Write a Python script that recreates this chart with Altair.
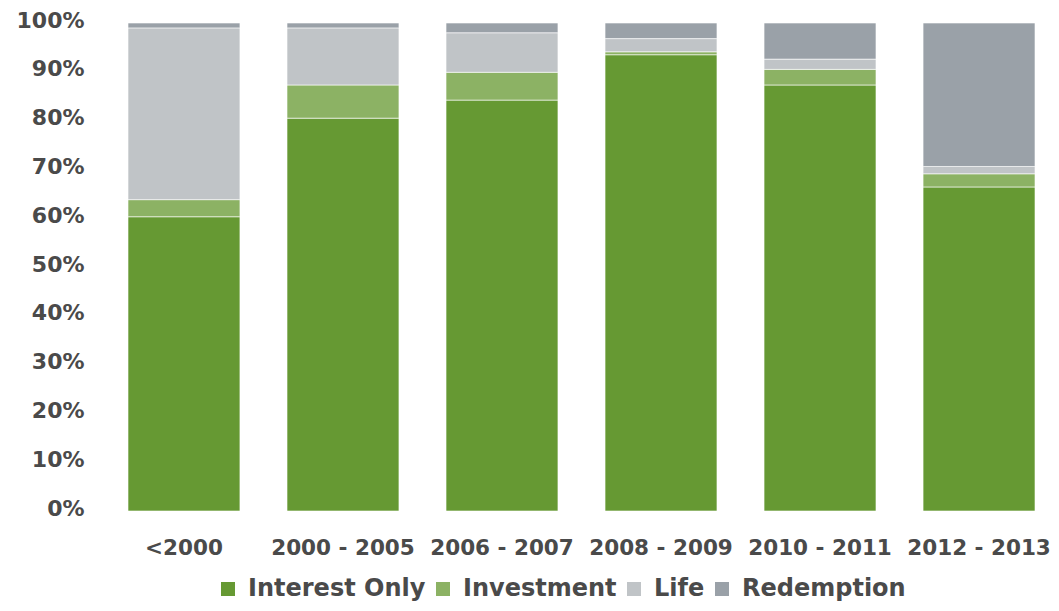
import altair as alt
import pandas as pd

periods = ["<2000", "2000 - 2005", "2006 - 2007", "2008 - 2009", "2010 - 2011", "2012 - 2013"]
series = ["Interest Only", "Investment", "Life", "Redemption"]
interest_only = [60.3, 80.5, 84.2, 93.5, 87.3, 66.4]
investment = [3.5, 6.8, 5.7, 0.6, 3.2, 2.7]
life = [35.2, 11.7, 8.1, 2.7, 2.1, 1.5]
redemption = [1.0, 1.0, 2.0, 3.2, 7.4, 29.4]
colors = ["#669933", "#8cb264", "#c0c4c7", "#9aa1a8"]
y_ticks = [i / 10 for i in range(11)]

rows = []
for s_i, (name, vals) in enumerate(zip(series, [interest_only, investment, life, redemption])):
    for p, v in zip(periods, vals):
        rows.append({"period": p, "series": name, "value": v, "order": s_i})
df = pd.DataFrame(rows)

FONT = "DejaVu Sans"
TXT = "#4a4a4a"

chart = alt.Chart(df).mark_bar(stroke="white", strokeWidth=1, strokeOpacity=0.6).encode(
    x=alt.X("period:N", sort=periods,
            scale=alt.Scale(paddingInner=0.296, paddingOuter=0),
            axis=alt.Axis(title=None, labelAngle=0, ticks=False, domain=False, grid=False,
                          labelFont=FONT, labelFontWeight="bold", labelFontSize=21.5,
                          labelColor=TXT, labelPadding=26)),
    y=alt.Y("value:Q", stack="normalize",
            scale=alt.Scale(domain=[0, 1]),
            axis=alt.Axis(title=None, values=y_ticks, format=".0%", ticks=False, domain=False,
                          grid=False, labelFont=FONT, labelFontWeight="bold", labelFontSize=22,
                          labelColor=TXT, labelPadding=44, labelOffset=-3)),
    color=alt.Color("series:N", sort=series,
                    scale=alt.Scale(domain=series, range=colors),
                    legend=alt.Legend(title=None, orient="none", legendX=88, legendY=554,
                                      direction="horizontal", symbolType="square",
                                      symbolSize=196, symbolStrokeWidth=0,
                                      labelFont=FONT, labelFontWeight="bold",
                                      labelFontSize=24, labelColor=TXT, labelLimit=400,
                                      labelOffset=8, columnPadding=5, padding=0)),
    order=alt.Order("order:Q", sort="ascending"),
).properties(
    width=907, height=488,
    autosize=alt.AutoSizeParams(type="none"),
    padding={"left": 120, "top": 15, "right": 16, "bottom": 92},
).configure_view(stroke=None)

chart.save("out.html", embed_options={"renderer": "svg", "actions": False})
